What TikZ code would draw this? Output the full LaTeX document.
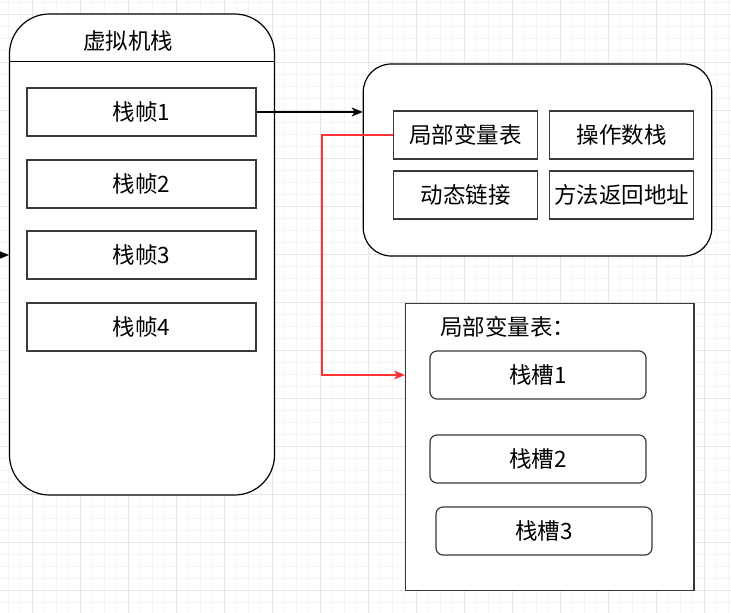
\documentclass[tikz,border=0pt]{standalone}
\usepackage{fontspec}
\newfontfamily\cjk{Noto Sans CJK SC}
\usetikzlibrary{arrows.meta}
\definecolor{gridmajor}{HTML}{E4E4E4}
\definecolor{gridminor}{HTML}{F4F4F4}
\definecolor{boxline}{HTML}{3A3A3A}
\definecolor{redline}{HTML}{FF3333}
\tikzset{
  lbl/.style={font=\cjk\fontsize{22.5bp}{25bp}\selectfont, text=black},
  bigbox/.style={draw=black, line width=1.2bp, fill=white, rounded corners=40bp},
  framebox/.style={draw=boxline, line width=1.2bp, fill=white, minimum width=229bp, minimum height=48bp, lbl},
  cellbox/.style={draw=boxline, line width=1.2bp, fill=white, minimum width=144bp, minimum height=48bp, inner sep=0pt, lbl},
  slotbox/.style={draw=boxline, line width=1.2bp, fill=white, rounded corners=7bp, minimum width=216bp, minimum height=48bp, lbl},
  arr/.style={draw=black, line width=1.1bp, -{Stealth[length=11bp,width=9bp,inset=3bp]}},
  redarr/.style={draw=redline, line width=1.1bp, -{Stealth[length=11bp,width=9bp,inset=3bp]}},
}
\begin{document}
\begin{tikzpicture}[x=1bp,y=-1bp]
\useasboundingbox (0,0) rectangle (731,613);
\fill[white] (0,0) rectangle (731,613);
% grid
\foreach \i in {0,...,61} {\draw[gridminor, line width=0.8bp] ({8.7+12*\i},0) -- ({8.7+12*\i},613);}
\foreach \i in {0,...,51} {\draw[gridminor, line width=0.8bp] (0,{2.7+12*\i}) -- (731,{2.7+12*\i});}
\foreach \i in {0,...,15} {\draw[gridmajor, line width=0.9bp] ({32.7+48*\i},0) -- ({32.7+48*\i},613);}
\foreach \i in {0,...,12} {\draw[gridmajor, line width=0.9bp] (0,{14.7+48*\i}) -- (731,{14.7+48*\i});}

% virtual machine stack
\node[bigbox, minimum width=265bp, minimum height=481bp] (vm) at (142,254.5) {};
\draw[black, line width=1.2bp] (vm.west |- 0,61.5) -- (vm.east |- 0,61.5);
\node[lbl] (vmtitle) at (128,41) {虚拟机栈};
\node[framebox] (f1) at (141.5,112) {栈帧1};
\node[framebox] (f2) at (141.5,184) {栈帧2};
\node[framebox] (f3) at (141.5,255) {栈帧3};
\node[framebox] (f4) at (141.5,327) {栈帧4};
\coordinate (inL) at (-20,255);
\draw[arr] (inL) -- (vm.west |- f3.west);

% frame detail
\node[bigbox, rounded corners=28bp, minimum width=348.5bp, minimum height=192bp] (fd) at (537.5,160) {};
\node[cellbox] (lv) at (465.7,135) {局部变量表};
\node[cellbox] (os) at (621.8,135) {操作数栈};
\node[cellbox] (dl) at (465.7,195) {动态链接};
\node[cellbox] (ra) at (621.8,195) {方法返回地址};
\draw[arr] (f1.east) -- (fd.west |- f1.east);

% local variable table
\node[draw=boxline, line width=1.2bp, fill=white, minimum width=288.3bp, minimum height=287.7bp] (lvt) at (549.8,447) {};
\node[lbl, anchor=west, inner sep=0pt] (lvtitle) at (440,327) {局部变量表：};
\node[slotbox] (s1) at (538,375) {栈槽1};
\node[slotbox] (s2) at (538,459) {栈槽2};
\node[slotbox] (s3) at (544,531) {栈槽3};
\coordinate (bend) at (322,135);
\draw[redarr] (lv.west) -- (bend) |- (lvt.west |- s1.center);
\end{tikzpicture}
\end{document}
